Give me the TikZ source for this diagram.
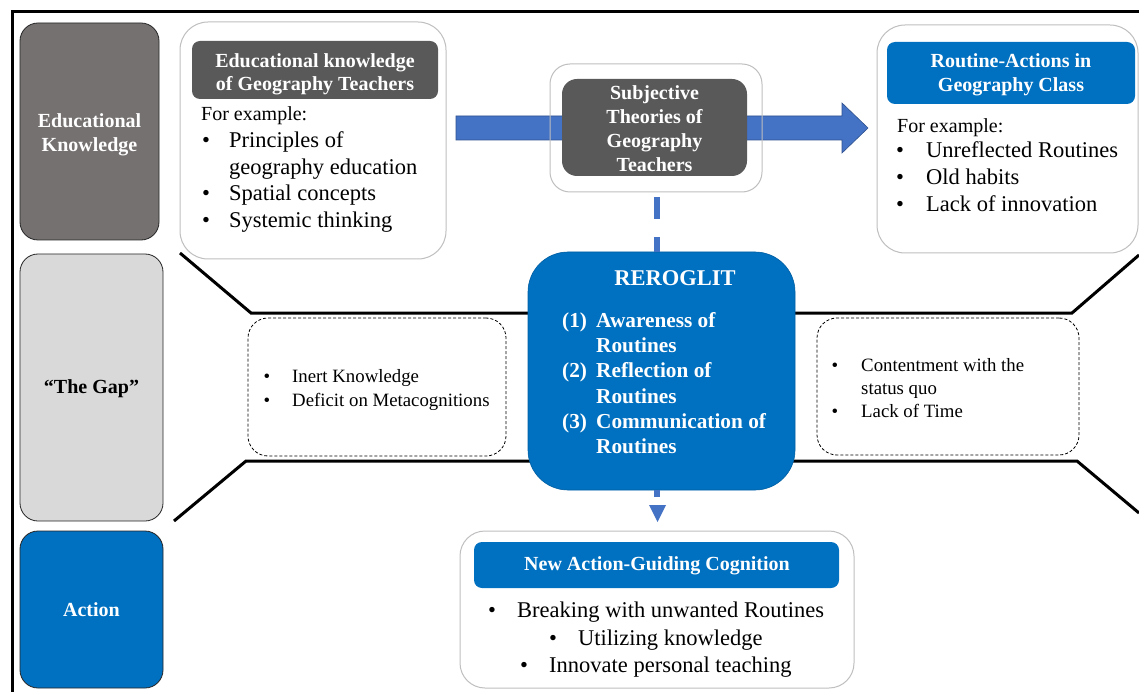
\documentclass[tikz,border=0pt]{standalone}
\usepackage{fontspec}
\setmainfont{Liberation Serif}
\usetikzlibrary{calc}
\definecolor{ekgray}{HTML}{767171}
\definecolor{hdgray}{HTML}{595959}
\definecolor{gapgray}{HTML}{D9D9D9}
\definecolor{actblue}{HTML}{0070C0}
\definecolor{arrblue}{HTML}{4472C4}
\definecolor{arrline}{HTML}{2F528F}
\definecolor{boxline}{HTML}{BFBFBF}
\tikzset{
 colbox/.style={draw=black!85, line width=0.8pt, rounded corners=18pt, inner sep=0pt},
 obox/.style={draw=boxline, line width=1pt, rounded corners=28pt, inner sep=0pt},
 hdbox/.style={rounded corners=8pt, inner sep=0pt},
 hdtext/.style={text=white, font=\bfseries\fontsize{20}{23.5}\selectfont, align=center, inner sep=0pt},
 bodytxt/.style={font=\fontsize{22.5}{26}\selectfont, inner sep=0pt, anchor=base west},
 bodybul/.style={font=\fontsize{22.5}{26}\selectfont, inner sep=0pt, anchor=base},
 extxt/.style={font=\fontsize{20}{24}\selectfont, inner sep=0pt, anchor=base west},
 smalltxt/.style={font=\fontsize{18.8}{22}\selectfont, inner sep=0pt, anchor=base west},
 smallbul/.style={font=\fontsize{18.8}{22}\selectfont, inner sep=0pt, anchor=base},
 rtxt/.style={text=white, font=\bfseries\fontsize{21.3}{25}\selectfont, inner sep=0pt, anchor=base west},
 gapline/.style={line width=3pt},
 dbox/.style={draw, dash pattern=on 3pt off 2pt, line width=0.8pt, rounded corners=20pt, inner sep=0pt},
 bluedash/.style={draw=arrblue, line width=6pt},
}
\begin{document}
\begin{tikzpicture}[x=1pt,y=-1pt]
\useasboundingbox (0,0) rectangle (1139,692);
\fill[white] (0,0) rectangle (1139,692);
% frame
\draw[line width=3pt] (12,692) -- (12,12) -- (1139,12);

% gap lines
\draw[gapline] (180,253) -- (251,313) -- (1072,313) -- (1139,255);
\draw[gapline] (174,521) -- (246,461) -- (1077,461) -- (1139,513);

% left column
\node[colbox, fill=ekgray, minimum width=139pt, minimum height=217pt] (ek) at (89.5,131.5) {};
\node[hdtext] (ekt) at (89.5,135) {Educational\\Knowledge};
\node[colbox, fill=gapgray, minimum width=143pt, minimum height=267pt] (gap) at (91.5,387.5) {};
\node[hdtext, text=black] (gapt) at (91.5,389) {“The Gap”};
\node[colbox, fill=actblue, minimum width=143pt, minimum height=157pt] (act) at (91.5,609.5) {};
\node[hdtext] (actt) at (91.5,610) {Action};

% big arrow
\coordinate (arrS) at (456,128);
\coordinate (arrE) at (868,128);
\fill[arrblue, draw=arrline, line width=0.6pt] ($(arrS)+(0,-12)$) -- (842,116) -- (842,103) -- (arrE) -- (842,153) -- (842,140) -- ($(arrS)+(0,12)$) -- cycle;

% box 1
\node[obox, minimum width=266pt, minimum height=237pt] (box1) at (313,140.5) {};
\node[hdbox, fill=hdgray, minimum width=246pt, minimum height=58pt] (hd1) at (315,70) {};
\node[hdtext] (hd1t) at (315,74.5) {Educational knowledge\\of Geography Teachers};
\node[extxt] (b1ex) at (201,121) {For example:};
\node[bodybul] (b1u1) at (206,148) {•};
\node[bodytxt] (b1i1) at (229,148) {Principles of};
\node[bodytxt] (b1i1b) at (229,174.5) {geography education};
\node[bodybul] (b1u2) at (206,201) {•};
\node[bodytxt] (b1i2) at (229,201) {Spatial concepts};
\node[bodybul] (b1u3) at (206,227.5) {•};
\node[bodytxt] (b1i3) at (229,227.5) {Systemic thinking};

% subjective theories
\node[obox, rounded corners=20pt, minimum width=212pt, minimum height=128pt] (subj) at (656,128) {};
\node[hdbox, rounded corners=15pt, fill=hdgray, minimum width=185pt, minimum height=97pt] (subji) at (654.5,127.5) {};
\node[hdtext, font=\bfseries\fontsize{20}{24}\selectfont] (subjt) at (654.5,128.5) {Subjective\\Theories of\\Geography\\Teachers};

% routines
\node[obox, minimum width=261pt, minimum height=228pt] (rout) at (1007.5,139) {};
\node[hdbox, fill=actblue, minimum width=248pt, minimum height=62pt] (routh) at (1011,73) {};
\node[hdtext] (routt) at (1011,75) {Routine-Actions in\\Geography Class};
\node[extxt] (r2ex) at (897,133) {For example:};
\node[bodybul] (r2u1) at (900,158) {•};
\node[bodytxt] (r2i1) at (926,158) {Unreflected Routines};
\node[bodybul] (r2u2) at (900,185) {•};
\node[bodytxt] (r2i2) at (926,185) {Old habits};
\node[bodybul] (r2u3) at (900,212) {•};
\node[bodytxt] (r2i3) at (926,212) {Lack of innovation};

% dashed boxes
\node[dbox, minimum width=258pt, minimum height=138pt] (dl) at (377,387) {};
\node[smallbul] (dlu1) at (267,382) {•};
\node[smalltxt] (dli1) at (292,382) {Inert Knowledge};
\node[smallbul] (dlu2) at (267,406) {•};
\node[smalltxt] (dli2) at (292,406) {Deficit on Metacognitions};
\node[dbox, minimum width=262pt, minimum height=137pt] (dr) at (948,386.5) {};
\node[smallbul] (dru1) at (835,371) {•};
\node[smalltxt] (dri1) at (861,371) {Contentment with the};
\node[smalltxt] (dri1b) at (861,394) {status quo};
\node[smallbul] (dru2) at (835,417) {•};
\node[smalltxt] (dri2) at (861,417) {Lack of Time};

% reroglit and dashed connector from subjective theories
\node[hdbox, rounded corners=40pt, fill=actblue, draw=actblue!85!black, line width=0.6pt, minimum width=267pt, minimum height=238pt] (rero) at (661.5,371) {};
\draw[bluedash, dash pattern=on 0pt off 5pt on 22pt off 18pt on 100pt] (subj.south -| 657,0) -- (rero.north -| 657,0);
\node[rtxt, font=\bfseries\fontsize{22.5}{26}\selectfont, anchor=base] (rerot) at (675,286) {REROGLIT};
\node[rtxt] (r1n) at (562,327) {(1)};
\node[rtxt] (r1t) at (596,327) {Awareness of};
\node[rtxt] (r1u) at (596,352) {Routines};
\node[rtxt] (r2n) at (562,377) {(2)};
\node[rtxt] (r2t) at (596,377) {Reflection of};
\node[rtxt] (r2r) at (596,403) {Routines};
\node[rtxt] (r3n) at (562,428) {(3)};
\node[rtxt] (r3t) at (596,428) {Communication of};
\node[rtxt] (r3r) at (596,453) {Routines};

% bottom box
\node[obox, rounded corners=25pt, minimum width=394pt, minimum height=157pt] (bot) at (657,609.5) {};
\coordinate (tipend) at (657.5,522);
\draw[bluedash] (rero.south -| 657,0) -- (657,497);
\fill[arrblue] (649,505) -- (666,505) -- (tipend) -- cycle;
\node[hdbox, fill=actblue, minimum width=365pt, minimum height=46pt] (both) at (656.5,565) {};
\node[hdtext, font=\bfseries\fontsize{20}{23}\selectfont] (bott) at (657,566) {New Action-Guiding Cognition};
\node[bodybul] (bu1) at (492,617) {•};
\node[bodytxt] (bi1) at (517,617) {Breaking with unwanted Routines};
\node[bodybul] (bu2) at (553,645) {•};
\node[bodytxt] (bi2) at (578,645) {Utilizing knowledge};
\node[bodybul] (bu3) at (524,672) {•};
\node[bodytxt] (bi3) at (549,672) {Innovate personal teaching};
\end{tikzpicture}
\end{document}
